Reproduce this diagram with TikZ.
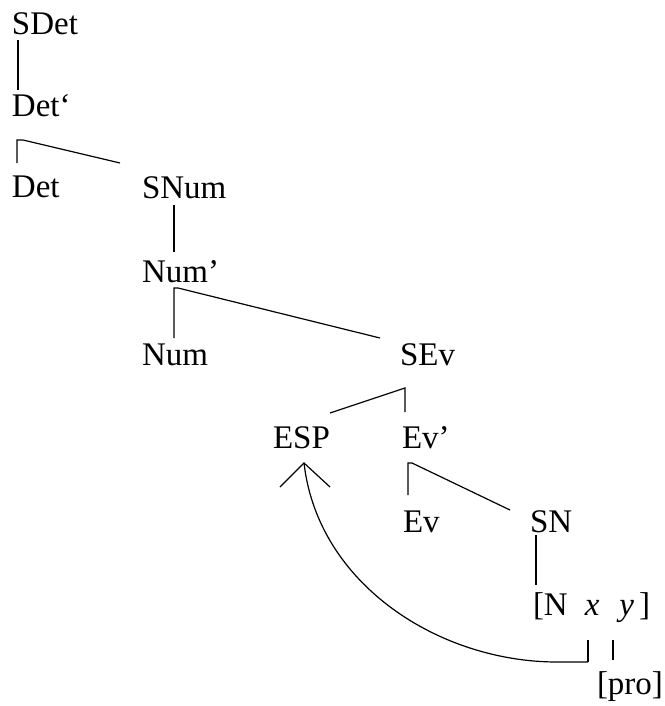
\documentclass[tikz,border=0pt]{standalone}
\usepackage{fontspec}
\setmainfont{Liberation Serif}
\usetikzlibrary{calc}
\begin{document}
\begin{tikzpicture}[x=1pt,y=-1pt,
  lbl/.style={anchor=base west,inner sep=0pt,outer sep=0pt,
    font=\fontsize{33}{40}\selectfont},
  edge/.style={line width=1.2pt,line join=miter}]
\useasboundingbox (0,0) rectangle (664,706);

% category labels
\node[lbl] (sdet) at (12,35)  {SDet};
\node[lbl] (detp) at (12,117) {Det‘};
\node[lbl] (det)  at (12,197) {Det};
\node[lbl] (snum) at (142,198) {SNum};
\node[lbl] (nump) at (142,282) {Num’};
\node[lbl] (num)  at (142,365) {Num};
\node[lbl] (sev)  at (400,365) {SEv};
\node[lbl] (esp)  at (273,448) {ESP};
\node[lbl] (evp)  at (402,448) {Ev’};
\node[lbl] (ev)   at (403,532) {Ev};
\node[lbl] (sn)   at (530,532) {SN};
\node[lbl] (nxy)  at (533,615) {[N\hspace{17pt}\textit{x}\hspace{20pt}\textit{y}\hspace{5pt}]};
\node[lbl] (pro)  at (597,694) {[pro]};

% SDet -> Det'
\draw[edge] ($(sdet.base west)+(6,5)$) -- ($(detp.base west)+(6,-27)$);
% Det' -> Det, SNum
\draw[edge] ($(det.base west)+(5,-34)$) -- ($(detp.base west)+(5,23)$)
  -- ($(detp.base west)+(11,23)$) -- ($(snum.base west)+(-22,-35)$);
% SNum -> Num'
\draw[edge] ($(snum.base west)+(32,7)$) -- ($(nump.base west)+(32,-30)$);
% Num' -> Num, SEv
\draw[edge] ($(num.base west)+(32,-27)$) -- ($(nump.base west)+(32,6)$)
  -- ($(nump.base west)+(36,6)$) -- ($(sev.base west)+(-20,-27)$);
% SEv -> ESP, Ev'
\draw[edge] ($(esp.base west)+(57,-35)$) -- ($(evp.base west)+(3,-60)$)
  -- ($(evp.base west)+(3,-36)$);
% Ev' -> Ev, SN
\draw[edge] ($(ev.base west)+(5,-37)$) -- ($(evp.base west)+(6,15)$)
  -- ($(evp.base west)+(10,15)$) -- ($(sn.base west)+(-20,-22)$);
% SN -> [N x y]
\draw[edge] ($(sn.base west)+(6,3)$) -- ($(nxy.base west)+(3,-30)$);
% x and y down to [pro]
\draw[edge] ($(nxy.base west)+(55,25)$) -- ($(nxy.base west)+(55,47)$);
\draw[edge] ($(nxy.base west)+(80,25)$) -- ($(nxy.base west)+(80,45)$);

% movement arrow from x up to ESP
\coordinate (apex) at ($(esp.base west)+(31,15)$);
\draw[edge] ($(nxy.base west)+(55,47)$) -- ($(nxy.base west)+(24,47)$)
  .. controls (440,662) and (318,585) .. (apex);
\draw[edge] ($(apex)+(-24,24)$) -- (apex) -- ($(apex)+(26,24)$);
\end{tikzpicture}
\end{document}
